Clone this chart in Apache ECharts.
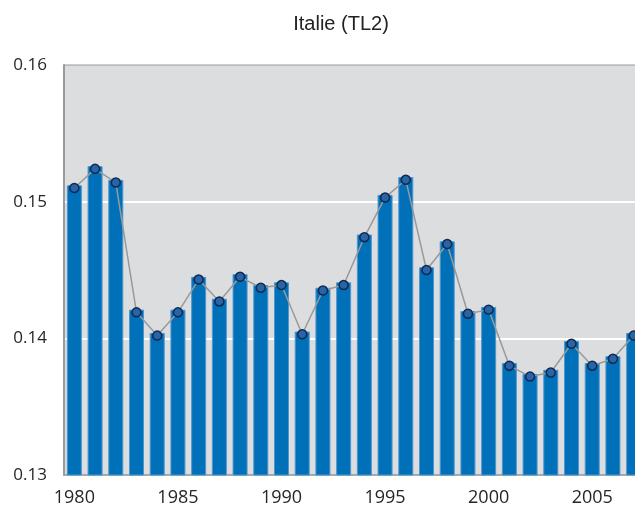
<!DOCTYPE html>
<html>
<head>
<meta charset="utf-8">
<script src="https://cdn.jsdelivr.net/npm/echarts@6/dist/echarts.min.js"></script>
<style>
  html, body { margin: 0; padding: 0; background: #fff; }
  #chart { width: 635px; height: 509px; }
</style>
</head>
<body>
<div id="chart"></div>
<script>
// données
var years = ['1980', '1981', '1982', '1983', '1984', '1985', '1986', '1987', '1988', '1989',
  '1990', '1991', '1992', '1993', '1994', '1995', '1996', '1997', '1998', '1999',
  '2000', '2001', '2002', '2003', '2004', '2005', '2006', '2007'];
var values = [0.1512, 0.1526, 0.1516, 0.1421, 0.1404, 0.1421, 0.1445, 0.1429, 0.1447, 0.1439,
  0.1441, 0.1405, 0.1437, 0.1441, 0.1476, 0.1505, 0.1518, 0.1452, 0.1471, 0.1420,
  0.1423, 0.1382, 0.1374, 0.1377, 0.1398, 0.1382, 0.1387, 0.1404];
var yTicks = [0.13, 0.14, 0.15, 0.16];

var myChart = echarts.init(document.getElementById('chart'));
myChart.setOption({
  animation: false,
  title: {
    text: 'Italie (TL2)',
    left: 336,
    top: 9,
    textAlign: 'center',
    textStyle: { fontFamily: 'Liberation Sans', fontSize: 20, fontWeight: 'normal', color: '#222' }
  },
  grid: {
    left: 64, top: 65, bottom: 34, width: 580,
    outerBoundsMode: 'none',
    show: true,
    backgroundColor: '#dcdddf',
    borderColor: '#9a9a9a',
    borderWidth: 1
  },
  xAxis: {
    type: 'category',
    data: years,
    boundaryGap: true,
    axisLine: { lineStyle: { color: '#a0a0a0', width: 1.5 } },
    axisTick: { interval: 4, length: 5, lineStyle: { color: '#a0a0a0' } },
    axisLabel: {
      interval: 4, margin: 14,
      fontFamily: 'Open Sans', fontSize: 18, color: '#262626'
    }
  },
  yAxis: [{
    type: 'value',
    min: yTicks[0],
    max: yTicks[yTicks.length - 1],
    interval: 0.01,
    axisLine: { show: true, lineStyle: { color: '#9a9a9a', width: 2 } },
    axisTick: { show: false },
    axisLabel: {
      margin: 17,
      fontFamily: 'Open Sans', fontSize: 17, color: '#262626',
      formatter: function (v) { return v.toFixed(2); }
    },
    splitLine: { show: true, showMinLine: false, showMaxLine: false, lineStyle: { color: '#fff', width: 2 } }
  }, {
    // axe secondaire (courbe), légèrement décalé comme dans l'original
    type: 'value', show: false, min: 0.1302, max: 0.1602, splitLine: { show: false }
  }],
  series: [{
    type: 'bar',
    data: values,
    barWidth: 15,
    itemStyle: { color: '#0070b8', borderColor: '#4d97d1', borderWidth: 1 }
  }, {
    type: 'line',
    yAxisIndex: 1,
    data: values,
    z: 5,
    symbol: 'circle',
    symbolSize: 9,
    lineStyle: { color: '#999', width: 1.5 },
    itemStyle: { color: '#2a64a5', borderColor: '#0d2a55', borderWidth: 1.5 }
  }]
});
</script>
</body>
</html>
